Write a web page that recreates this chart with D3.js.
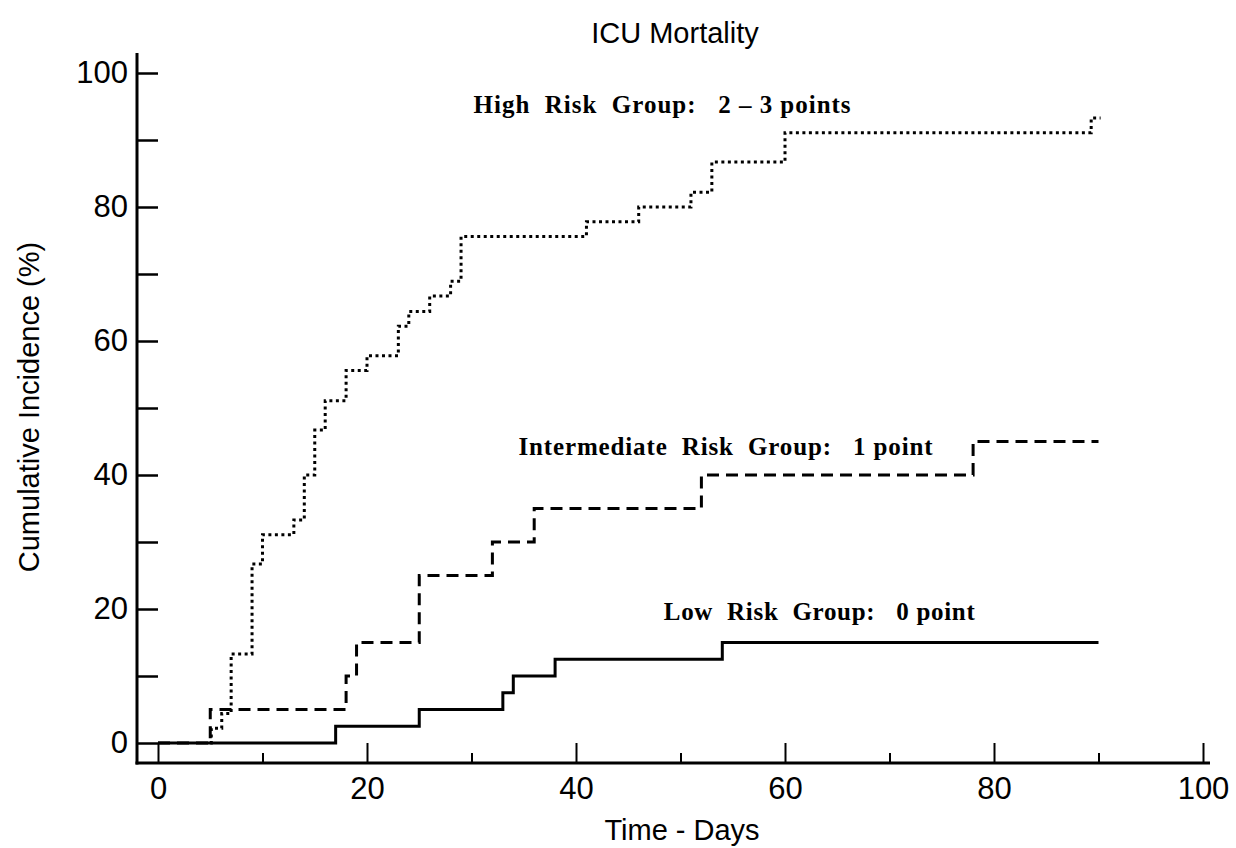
<!DOCTYPE html>
<html>
<head>
<meta charset="utf-8">
<script src="https://cdn.jsdelivr.net/npm/d3@7"></script>
<style>
  body { margin: 0; background: #fff; }
  svg { display: block; }
  .tick text { font-family: "Liberation Sans", Arial, sans-serif; }
</style>
</head>
<body>
<div id="chart"></div>
<script>
// chart size
const width = 1236
const height = 848

// data: [day, cumulative incidence %] at each step
const lowRisk = [[0, 0], [17, 2.5], [25, 5], [33, 7.5], [34, 10], [38, 12.5], [54, 15], [90, 15]]
const intermediateRisk = [[0, 0], [5, 5], [18, 10], [19, 15], [25, 25], [32, 30], [36, 35], [52, 40], [78, 45], [90, 45]]
const highRisk = [[5, 0], [5.1, 2.2], [6.1, 4.4], [7, 13.3], [9, 26.7], [10, 31.1], [13, 33.3], [14, 40],
  [15, 46.7], [16, 51.1], [18, 55.6], [20, 57.8], [23, 62.2], [24, 64.4], [26, 66.7], [28, 68.9],
  [29, 75.6], [41, 77.8], [46, 80], [51, 82.2], [53, 86.7], [60, 91.1], [89.3, 93.3], [90.2, 93.3]]

const xMajorTicks = [0, 20, 40, 60, 80, 100]
const xMinorTicks = [10, 30, 50, 70, 90]
const yTicks = [0, 10, 20, 30, 40, 50, 60, 70, 80, 90, 100]

const groupLabels = [
  { text: "High  Risk  Group:   2 – 3 points", day: 30.2, value: 94.0, len: 377 },
  { text: "Intermediate  Risk  Group:   1 point", day: 34.5, value: 43.0, len: 414 },
  { text: "Low  Risk  Group:   0 point", day: 48.4, value: 18.4, len: 311 }
]

const x = d3.scaleLinear().domain([0, 100]).range([158, 1203])
const y = d3.scaleLinear().domain([0, 100]).range([743, 73])

const svg = d3.select('#chart')
  .append('svg')
  .attr('width', width)
  .attr('height', height)

// title
svg.append('text')
  .attr('x', 675)
  .attr('y', 43)
  .attr('text-anchor', 'middle')
  .style('font-family', '"Liberation Sans", Arial, sans-serif')
  .style('font-size', '29px')
  .text('ICU Mortality')

// axes are offset from the plot origin like the original
const yAxisX = 137
const xAxisY = 763

const yAxis = d3.axisLeft(y)
  .tickValues(yTicks)
  .tickSizeInner(-(x(0) - yAxisX))
  .tickSizeOuter(0)
  .tickPadding(9)
  .tickFormat(d => d % 20 === 0 ? d : '')

const gy = svg.append('g')
  .attr('transform', 'translate(' + yAxisX + ',0)')
  .call(yAxis)
gy.select('.domain').remove()
gy.selectAll('.tick line').attr('stroke', '#000').attr('stroke-width', 2.5)
gy.selectAll('.tick text').style('font-size', '31px').attr('fill', '#000')

const xAxis = d3.axisBottom(x)
  .tickValues(xMajorTicks)
  .tickSizeInner(-(xAxisY - y(0)))
  .tickSizeOuter(0)
  .tickPadding(14)

const gx = svg.append('g')
  .attr('transform', 'translate(0,' + xAxisY + ')')
  .call(xAxis)
gx.select('.domain').remove()
gx.selectAll('.tick line').attr('stroke', '#000').attr('stroke-width', 2)
gx.selectAll('.tick text').style('font-size', '31px').attr('fill', '#000')

const gxMinor = svg.append('g')
  .attr('transform', 'translate(0,' + xAxisY + ')')
  .call(d3.axisBottom(x).tickValues(xMinorTicks).tickSizeInner(-10).tickSizeOuter(0).tickFormat(''))
gxMinor.select('.domain').remove()
gxMinor.selectAll('.tick line').attr('stroke', '#000').attr('stroke-width', 2)

// axis lines
svg.append('line')
  .attr('x1', yAxisX).attr('x2', yAxisX)
  .attr('y1', xAxisY + 1.5).attr('y2', 53)
  .attr('stroke', '#000').attr('stroke-width', 3)
svg.append('line')
  .attr('x1', yAxisX - 1.5).attr('x2', 1210)
  .attr('y1', xAxisY).attr('y2', xAxisY)
  .attr('stroke', '#000').attr('stroke-width', 3)

// axis titles
svg.append('text')
  .attr('x', 682)
  .attr('y', 840)
  .attr('text-anchor', 'middle')
  .style('font-family', '"Liberation Sans", Arial, sans-serif')
  .style('font-size', '29px')
  .text('Time - Days')

svg.append('text')
  .attr('transform', 'translate(39,407) rotate(-90)')
  .attr('text-anchor', 'middle')
  .style('font-family', '"Liberation Sans", Arial, sans-serif')
  .style('font-size', '29px')
  .text('Cumulative Incidence (%)')

// curves
const line = d3.line()
  .x(d => x(d[0]))
  .y(d => y(d[1]))
  .curve(d3.curveStepAfter)

svg.append('path')
  .datum(lowRisk)
  .attr('d', line)
  .attr('fill', 'none')
  .attr('stroke', '#000')
  .attr('stroke-width', 3)

svg.append('path')
  .datum(intermediateRisk)
  .attr('d', line)
  .attr('fill', 'none')
  .attr('stroke', '#000')
  .attr('stroke-width', 3)
  .attr('stroke-dasharray', '12,7')

svg.append('path')
  .datum(highRisk)
  .attr('d', line)
  .attr('fill', 'none')
  .attr('stroke', '#000')
  .attr('stroke-width', 3)
  .attr('stroke-dasharray', '3,3.5')

// group labels
svg.selectAll('.group-label')
  .data(groupLabels)
  .enter()
  .append('text')
  .attr('class', 'group-label')
  .attr('x', d => x(d.day))
  .attr('y', d => y(d.value))
  .attr('textLength', d => d.len)
  .attr('lengthAdjust', 'spacing')
  .style('white-space', 'pre')
  .style('font-family', '"Liberation Serif", "Times New Roman", serif')
  .style('font-weight', 'bold')
  .style('font-size', '25px')
  .text(d => d.text)
</script>
</body>
</html>
